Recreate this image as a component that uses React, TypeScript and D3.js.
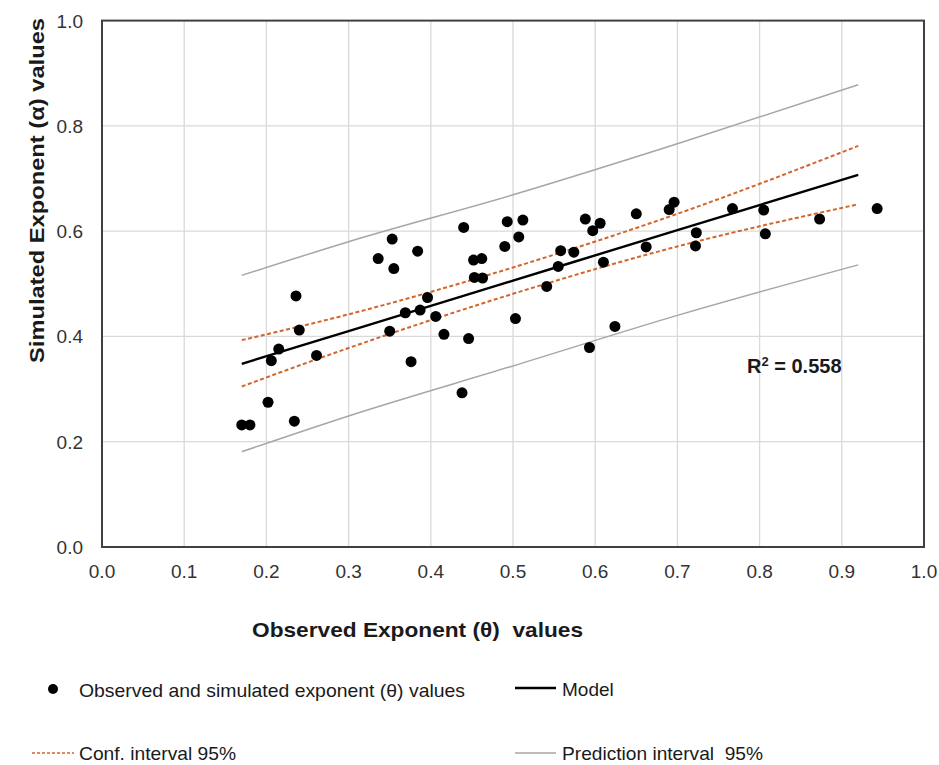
import { line, scaleLinear, curveMonotoneX } from "d3";

const WIDTH = 939;
const HEIGHT = 765;

// observed (x) vs simulated (y) exponents
const observed = [
  0.170, 0.180, 0.202, 0.206, 0.215, 0.234, 0.236, 0.240, 0.261, 0.336,
  0.350, 0.353, 0.355, 0.369, 0.376, 0.384, 0.387, 0.396, 0.406, 0.416,
  0.438, 0.440, 0.446, 0.452, 0.453, 0.462, 0.463, 0.490, 0.493, 0.503,
  0.507, 0.512, 0.541, 0.555, 0.558, 0.574, 0.588, 0.593, 0.597, 0.606,
  0.610, 0.624, 0.650, 0.662, 0.690, 0.696, 0.722, 0.723, 0.767, 0.805,
  0.807, 0.873, 0.943,
];
const simulated = [
  0.232, 0.232, 0.275, 0.354, 0.376, 0.239, 0.477, 0.412, 0.364, 0.548,
  0.410, 0.585, 0.529, 0.445, 0.352, 0.562, 0.450, 0.474, 0.438, 0.404,
  0.293, 0.607, 0.396, 0.545, 0.512, 0.548, 0.511, 0.571, 0.618, 0.434,
  0.589, 0.621, 0.495, 0.533, 0.563, 0.560, 0.623, 0.379, 0.601, 0.615,
  0.541, 0.419, 0.633, 0.570, 0.641, 0.655, 0.572, 0.597, 0.643, 0.640,
  0.595, 0.623, 0.643,
];

const bandX = [0.17, 0.3, 0.5, 0.7, 0.92];
const modelY = [0.348, 0.41, 0.506, 0.602, 0.707];
const confUpper = [0.393, 0.442, 0.531, 0.633, 0.762];
const confLower = [0.305, 0.378, 0.481, 0.571, 0.651];
const predUpper = [0.516, 0.580, 0.669, 0.766, 0.878];
const predLower = [0.181, 0.249, 0.344, 0.440, 0.536];

const ticks = [0, 0.1, 0.2, 0.3, 0.4, 0.5, 0.6, 0.7, 0.8, 0.9, 1.0];
const yTicks = [0, 0.2, 0.4, 0.6, 0.8, 1.0];

const FONT = "'Liberation Sans', Arial, sans-serif";
const pre = { whiteSpace: "pre" as const };

export default function App() {
  const x = scaleLinear().domain([0, 1]).range([102, 924]);
  const y = scaleLinear().domain([0, 1]).range([547, 20.6]);

  const path = (ys: number[]) =>
    line<number>()
      .x((_, i) => x(bandX[i]))
      .y((v) => y(v))
      .curve(curveMonotoneX)(ys) ?? "";

  return (
    <svg
      width={WIDTH}
      height={HEIGHT}
      style={{ position: "absolute", left: 0, top: 0, background: "#fff" }}
      fontFamily={FONT}
    >
      {ticks.slice(1, -1).map((t) => (
        <line key={"gx" + t} x1={x(t)} x2={x(t)} y1={y(0)} y2={y(1)} stroke="#d9d9d9" strokeWidth={1.3} />
      ))}
      {yTicks.slice(1, -1).map((t) => (
        <line key={"gy" + t} x1={x(0)} x2={x(1)} y1={y(t)} y2={y(t)} stroke="#d9d9d9" strokeWidth={1.3} />
      ))}
      <rect x={x(0)} y={y(1)} width={x(1) - x(0)} height={y(0) - y(1)} fill="none" stroke="#404040" strokeWidth={2} />

      <path d={path(predUpper)} fill="none" stroke="#a6a6a6" strokeWidth={1.5} />
      <path d={path(predLower)} fill="none" stroke="#a6a6a6" strokeWidth={1.5} />
      <path d={path(confUpper)} fill="none" stroke="#d2662a" strokeWidth={2} strokeDasharray="4 2.5" />
      <path d={path(confLower)} fill="none" stroke="#d2662a" strokeWidth={2} strokeDasharray="4 2.5" />
      <path d={path(modelY)} fill="none" stroke="#000" strokeWidth={2.4} />

      {observed.map((o, i) => (
        <circle key={i} cx={x(o)} cy={y(simulated[i])} r={5.5} fill="#000" />
      ))}

      <text x={747} y={373} fontSize={20} fontWeight="bold" fill="#1a1a1a">
        R<tspan fontSize={13} dy={-7}>2</tspan>
        <tspan dy={7}> = 0.558</tspan>
      </text>

      {ticks.map((t) => (
        <text key={"tx" + t} x={x(t)} y={578} fontSize={19} textAnchor="middle" fill="#333">
          {t.toFixed(1)}
        </text>
      ))}
      {yTicks.map((t) => (
        <text key={"ty" + t} x={83} y={y(t) + 7} fontSize={19} textAnchor="end" fill="#333">
          {t.toFixed(1)}
        </text>
      ))}

      <text
        x={252}
        y={637}
        fontSize={21}
        fontWeight="bold"
        fill="#1a1a1a"
        textLength={331}
        lengthAdjust="spacingAndGlyphs"
        style={pre}
      >
        Observed Exponent (θ)  values
      </text>
      <text
        transform="translate(44,363) rotate(-90)"
        fontSize={21}
        fontWeight="bold"
        fill="#1a1a1a"
        textLength={345}
        lengthAdjust="spacingAndGlyphs"
      >
        Simulated Exponent (α) values
      </text>

      {/* legend */}
      <circle cx={53} cy={689} r={5} fill="#000" />
      <text x={79} y={697} fontSize={19} fill="#1a1a1a" textLength={386} lengthAdjust="spacingAndGlyphs">
        Observed and simulated exponent (θ) values
      </text>
      <line x1={515} x2={556} y1={688} y2={688} stroke="#000" strokeWidth={2.4} />
      <text x={562} y={696} fontSize={19} fill="#1a1a1a">Model</text>
      <line x1={32} x2={74} y1={753} y2={753} stroke="#d2662a" strokeWidth={1.6} strokeDasharray="3 2" />
      <text x={79} y={760} fontSize={19} fill="#1a1a1a" textLength={157} lengthAdjust="spacingAndGlyphs">
        Conf. interval 95%
      </text>
      <line x1={515} x2={556} y1={753} y2={753} stroke="#a6a6a6" strokeWidth={1.5} />
      <text
        x={562}
        y={760}
        fontSize={19}
        fill="#1a1a1a"
        textLength={201}
        lengthAdjust="spacingAndGlyphs"
        style={pre}
      >
        Prediction interval  95%
      </text>
    </svg>
  );
}
